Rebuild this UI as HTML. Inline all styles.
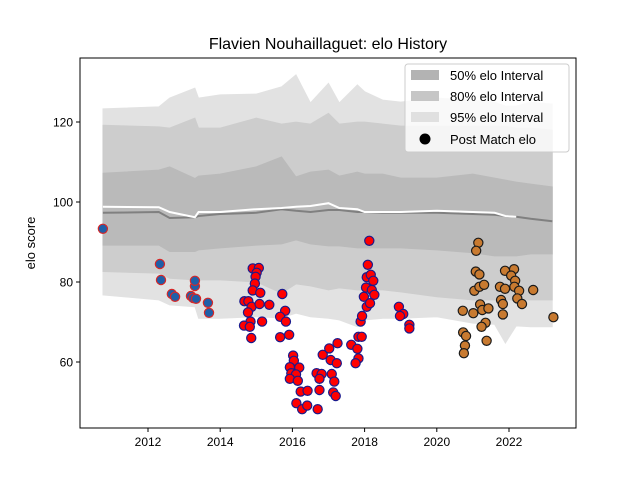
<!DOCTYPE html>
<html><head><meta charset="utf-8"><style>
body{margin:0;background:#fff;}
svg text{font-family:"Liberation Sans","DejaVu Sans",sans-serif;}
</style></head><body>
<svg id="chart" width="640" height="480" xmlns="http://www.w3.org/2000/svg">
<rect width="640" height="480" fill="#fff"/>
<g id="bands"></g>
<g id="lines"></g>
<g id="pts"></g>
<rect x="80" y="58" width="496" height="370" fill="none" stroke="#000" stroke-width="1"/>
<g id="axes"></g>
<text x="328" y="49" font-size="16" text-anchor="middle">Flavien Nouhaillaguet: elo History</text>
<text transform="translate(35,243) rotate(-90)" font-size="13" text-anchor="middle">elo score</text>
<g>
<rect x="405" y="64" width="164" height="88" rx="3" fill="#fff" fill-opacity="0.8" stroke="#ccc"/>
<rect x="411" y="70" width="28" height="10" fill="#b3b3b3"/>
<text x="450" y="80" font-size="13">50% elo Interval</text>
<rect x="411" y="91" width="28" height="10" fill="#c6c6c6"/>
<text x="450" y="101" font-size="13">80% elo Interval</text>
<rect x="411" y="112" width="28" height="10" fill="#e0e0e0"/>
<text x="450" y="122" font-size="13">95% elo Interval</text>
<circle cx="425" cy="139" r="5.5" fill="#000"/>
<text x="450" y="144" font-size="13">Post Match elo</text>
</g>
</svg>
<script>
const bandYears=[2010.75,2012.3,2012.6,2013.3,2013.4,2014.0,2015.0,2015.7,2016.1,2016.5,2017.0,2017.3,2017.8,2018.0,2018.5,2019.0,2020.0,2021.0,2021.6,2021.9,2022.2,2022.6,2023.2];
const upper95=[123.3,123.8,126,128.5,126,126.8,127,128.8,131.8,124.8,129.7,124.8,129.3,127.6,125.5,125,126,125.5,125,124,124,125,124.5];
const upper80=[119.2,118.8,118.5,121,118.5,118.5,121,119.5,120,119.5,122.2,119.5,120,120,119.5,119,119,119,119,119,118.5,118.5,118];
const upper50=[107.2,108,108.8,105.9,106.5,107,108.8,111.3,106.3,107.5,108,106.5,107.5,107,107,106,106,107,106,105.5,105,104.5,103.8];
const medianElo=[97.3,97.5,96,96.2,96.5,97,97.3,98.2,97.8,97.5,98,98,97.5,97.5,97.3,97.3,97.3,97,96.8,96.5,96.3,95.8,95.2];
const meanElo=[98.8,98.7,97.5,96.2,97.5,97.5,98.2,98.5,98.8,99,99.7,98.5,98.2,97.5,97.5,97.5,97.8,97.5,97.3,96.5,96.3,null,null];
const lower50=[89.2,89.2,87.6,87.6,88,88.5,89.2,89.5,90.5,89.5,89,89,88.5,88.5,88.5,88.5,88,87.3,86.5,86.5,86.5,87,87];
const lower80=[82.6,82.2,80.9,80.5,80.5,80.5,80,77.2,79.5,79,78,78.5,78,78,78,77.5,76.3,75.5,75.5,75.5,75.5,75.5,75.5];
const lower95=[76.75,75.5,74.25,73.8,70.9,70.9,71.3,71,72.2,71.3,70.9,70.5,68.8,70.5,70.9,70.9,71.3,69.7,69.4,64.7,69,68.8,68.8];

const blueYears=[2010.75,2012.33,2012.36,2012.66,2012.75,2013.19,2013.25,2013.33,2013.30,2013.30,2013.66,2013.69];
const blueElo=[93.3,84.5,80.5,77,76.3,76.5,76,75.8,79,80.3,74.8,72.3];
const redYears=[2014.90,2015.07,2015.01,2014.98,2014.96,2014.90,2015.11,2014.67,2014.78,2014.87,2015.09,2015.36,2014.77,2015.16,2014.84,2014.66,2014.82,2014.86,2015.72,2015.80,2015.66,2015.82,2015.66,2015.91,2016.02,2016.04,2015.93,2016.19,2015.97,2016.10,2015.93,2016.15,2016.23,2016.42,2016.11,2016.27,2016.41,2016.70,2016.67,2016.81,2016.75,2016.75,2017.09,2017.16,2017.13,2017.20,2016.84,2017.02,2017.06,2017.23,2017.25,2017.63,2017.80,2017.83,2017.75,2017.83,2017.92,2017.89,2017.93,2017.98,2018.06,2018.15,2018.04,2018.20,2018.27,2018.06,2018.17,2018.24,2018.09,2018.13,2018.95,2019.07,2018.98,2019.24,2019.24];
const redElo=[83.4,83.5,82.3,81.3,79.6,77.9,77.3,75.2,75.2,73.8,74.5,74.3,72.4,70.1,70.1,69.1,68.8,66.0,77.0,72.8,71.3,70.1,66.2,66.8,61.6,60.3,58.7,58.6,57.2,56.9,55.8,55.3,52.6,52.8,49.7,48.2,49.1,48.2,57.2,57.0,55.8,53.0,57.0,55.1,52.4,51.5,61.8,63.4,60.5,59.7,64.7,64.3,63.3,60.9,59.7,66.3,66.3,70.1,71.5,76.3,73.8,74.7,78.6,78.0,76.8,81.2,81.8,80.3,84.3,90.3,73.8,72.0,71.5,69.3,68.4];
const brownYears=[2021.15,2021.09,2021.08,2021.18,2021.04,2021.18,2021.31,2020.72,2021.01,2021.20,2021.26,2021.43,2021.35,2021.24,2020.73,2020.81,2020.78,2020.75,2021.38,2021.89,2022.14,2022.06,2022.17,2022.15,2021.75,2021.89,2022.28,2022.23,2022.36,2022.67,2021.78,2021.83,2021.83,2023.23];
const brownElo=[89.8,87.8,82.6,81.9,77.8,78.8,79.3,72.8,72.2,74.4,73.0,73.4,69.8,68.8,67.4,66.5,64.1,62.2,65.3,82.8,83.2,81.6,80.3,78.8,78.8,78.3,77.8,75.9,74.5,78.0,75.5,74.5,71.9,71.2];
const xTicks=[2012,2014,2016,2018,2020,2022];
const yTicks=[60,80,100,120];

const NS="http://www.w3.org/2000/svg";
const X=yr=>148+36.1*(yr-2012);
const Y=v=>362-(v-60)*4;
function mk(tag,attrs,parent){const e=document.createElementNS(NS,tag);for(const k in attrs)e.setAttribute(k,attrs[k]);parent.appendChild(e);return e;}
const bands=document.getElementById('bands');
function band(up,lo,fill,name){
  let d='M'+bandYears.map((yr,i)=>X(yr)+','+Y(up[i])).join('L');
  for(let i=bandYears.length-1;i>=0;i--)d+='L'+X(bandYears[i])+','+Y(lo[i]);
  const p=mk('path',{d:d+'Z',fill:fill,stroke:fill,'stroke-width':0.8},bands);
  
  
}
band(upper95,lower95,'#e2e2e2','band-95');
band(upper80,lower80,'#cdcdcd','band-80');
band(upper50,lower50,'#bababa','band-50');
const lines=document.getElementById('lines');
function line(vals,color,name){
  const pts=[];vals.forEach((v,i)=>{if(v!==null)pts.push(X(bandYears[i])+','+Y(v));});
  const l=mk('polyline',{points:pts.join(' '),fill:'none',stroke:color,'stroke-width':2},lines);
  
  
}
line(medianElo,'#808080','median-elo-line');
line(meanElo,'#ffffff','mean-elo-line');
const pg=document.getElementById('pts');
function pts(xs,ys,fill,stroke,name){
  xs.forEach((yr,i)=>{
    const c=mk('circle',{cx:X(yr),cy:Y(ys[i]),r:4.6,fill:fill,stroke:stroke,'stroke-width':1.2},pg);
    
    
  });
}
pts(blueYears,blueElo,'#1f5fa8','#d62728','match-point-early');
pts(redYears,redElo,'#ff0000','#1a1a8c','match-point-mid');
pts(brownYears,brownElo,'#c87a30','#1a1a1a','match-point-late');
const ax=document.getElementById('axes');
xTicks.forEach(t=>{
  const l=mk('line',{x1:X(t),x2:X(t),y1:428,y2:432,stroke:'#000'},ax);
  
  
  const tx=mk('text',{x:X(t),y:446,'font-size':12,'text-anchor':'middle'},ax);
  tx.textContent=t;
  
  
});
yTicks.forEach(t=>{
  const l=mk('line',{x1:76,x2:80,y1:Y(t),y2:Y(t),stroke:'#000'},ax);
  
  
  const tx=mk('text',{x:73,y:Y(t)+4.5,'font-size':12,'text-anchor':'end'},ax);
  tx.textContent=t;
  
  
});
</script>
</body></html>
